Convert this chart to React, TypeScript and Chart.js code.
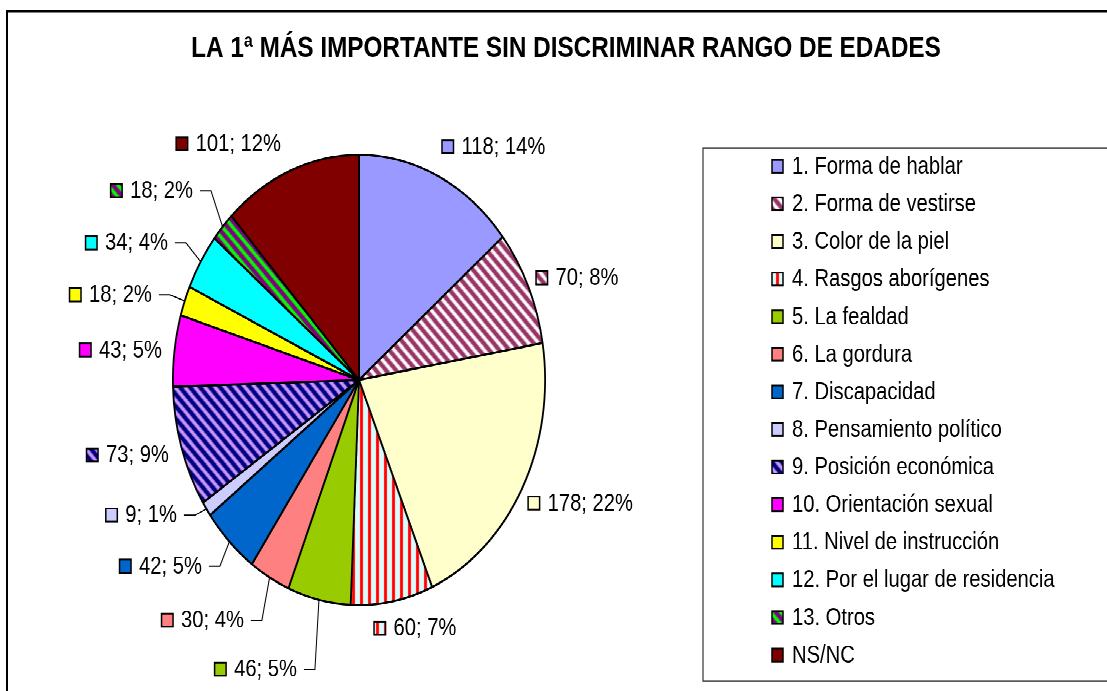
import React, { useEffect, useRef } from 'react';
import { Chart, registerables } from 'chart.js';

Chart.register(...registerables);

// ---------- data ----------
const TITLE = 'LA 1ª MÁS IMPORTANTE SIN DISCRIMINAR RANGO DE EDADES';
const CATEGORIES = [
  '1. Forma de hablar',
  '2. Forma de vestirse',
  '3. Color de la piel',
  '4. Rasgos aborígenes',
  '5. La fealdad',
  '6. La gordura',
  '7. Discapacidad',
  '8. Pensamiento político',
  '9. Posición económica',
  '10. Orientación sexual',
  '11. Nivel de instrucción',
  '12. Por el lugar de residencia',
  '13. Otros',
  'NS/NC',
];
const VALUES = [118, 70, 178, 60, 46, 30, 42, 9, 73, 43, 18, 34, 18, 101];
const PERCENTS = [14, 8, 22, 7, 5, 4, 5, 1, 9, 5, 2, 4, 2, 12];

// ---------- styles / layout ----------
type FillSpec =
  | { kind: 'solid'; color: string }
  | { kind: 'diag'; bg: string; fg: string; size: number; lw: number }
  | { kind: 'vert' };

const FILLS: FillSpec[] = [
  { kind: 'solid', color: '#9999FF' },
  { kind: 'diag', bg: '#FFFFFF', fg: '#993366', size: 10, lw: 4 },
  { kind: 'solid', color: '#FFFFCC' },
  { kind: 'vert' },
  { kind: 'solid', color: '#99CC00' },
  { kind: 'solid', color: '#FF8080' },
  { kind: 'solid', color: '#0066CC' },
  { kind: 'solid', color: '#CCCCFF' },
  { kind: 'diag', bg: '#CC99FF', fg: '#000080', size: 10, lw: 4 },
  { kind: 'solid', color: '#FF00FF' },
  { kind: 'solid', color: '#FFFF00' },
  { kind: 'solid', color: '#00FFFF' },
  { kind: 'diag', bg: '#00FF00', fg: '#800080', size: 10, lw: 4 },
  { kind: 'solid', color: '#800000' },
];

// label anchor offsets from the slice's outer mid point (unscaled px)
const LABEL_OFFSETS: [number, number][] = [
  [3.5, -24.5],
  [7.6, -7.4],
  [5.9, 12.3],
  [-18.2, 22.0],
  [-22, 57.3],
  [-25.7, 35.3],
  [-27.5, 20.3],
  [-29.5, 5.1],
  [-12.5, 6.5],
  [-12.6, -0.5],
  [-32.9, -5.0],
  [-32.8, -15.5],
  [-29.6, -29.8],
  [-9.4, -22.2],
];
const LEADERS = [false, false, false, false, true, true, true, true, false, false, true, true, true, false];

const W = 1107;
const H = 571;
const SY = 691 / H;
const FONT = '"Liberation Sans", Arial, Helvetica, sans-serif';

function makeFill(ctx: CanvasRenderingContext2D, f: FillSpec): any {
  if (f.kind === 'solid') return f.color;
  const tile = document.createElement('canvas');
  if (f.kind === 'diag') {
    const s = f.size;
    tile.width = s;
    tile.height = s;
    const g = tile.getContext('2d')!;
    g.fillStyle = f.bg;
    g.fillRect(0, 0, s, s);
    g.strokeStyle = f.fg;
    g.lineWidth = f.lw;
    g.beginPath();
    for (let k = -2; k <= 2; k++) {
      g.moveTo(-s, -s + k * s);
      g.lineTo(2 * s, 2 * s + k * s);
    }
    g.stroke();
  } else {
    tile.width = 8;
    tile.height = 8;
    const g = tile.getContext('2d')!;
    g.fillStyle = '#CCFFFF';
    g.fillRect(0, 0, 8, 8);
    g.fillStyle = '#FF0000';
    g.fillRect(0, 0, 3, 8);
    g.fillStyle = '#FFFFFF';
    g.fillRect(3, 0, 1, 8);
    g.fillRect(7, 0, 1, 8);
  }
  return ctx.createPattern(tile, 'repeat');
}

const decorPlugin = {
  id: 'decor',
  beforeDraw(chart: any) {
    const ctx: CanvasRenderingContext2D = chart.ctx;
    const bg = chart.data.datasets[0].backgroundColor;
    ctx.save();
    ctx.fillStyle = '#FFFFFF';
    ctx.fillRect(0, 0, chart.width, chart.height);
    // outer frame
    ctx.strokeStyle = '#000000';
    ctx.lineWidth = 2;
    ctx.beginPath();
    ctx.moveTo(7, chart.height + 10);
    ctx.lineTo(7, 9.2);
    ctx.lineTo(chart.width + 10, 9.2);
    ctx.stroke();
    // title
    ctx.font = `bold 24.3px ${FONT}`;
    ctx.fillStyle = '#000000';
    ctx.textAlign = 'center';
    ctx.textBaseline = 'middle';
    ctx.fillText(TITLE, 566, 40.5);
    // legend box
    ctx.lineWidth = 1.2;
    ctx.strokeStyle = '#333333';
    ctx.strokeRect(703, 122.3, 500, 440.5);
    // legend items
    ctx.font = `20.2px ${FONT}`;
    ctx.textAlign = 'left';
    chart.data.labels.forEach((lab: string, i: number) => {
      const cy = 137.4 + i * 31.07;
      ctx.fillStyle = bg[i];
      ctx.fillRect(772, cy - 5.3, 11, 10.6);
      ctx.lineWidth = 1.5;
      ctx.strokeStyle = '#000000';
      ctx.strokeRect(772, cy - 5.3, 11, 10.6);
      ctx.fillStyle = '#000000';
      ctx.fillText(lab, 792, cy + 0.5);
    });
    ctx.restore();
  },
  afterDatasetsDraw(chart: any) {
    const ctx: CanvasRenderingContext2D = chart.ctx;
    const meta = chart.getDatasetMeta(0);
    const bg = chart.data.datasets[0].backgroundColor;
    const vals = chart.data.datasets[0].data;
    ctx.save();
    ctx.font = `20.2px ${FONT}`;
    ctx.textBaseline = 'middle';
    ctx.textAlign = 'left';
    meta.data.forEach((arc: any, i: number) => {
      const p = arc.getProps(['x', 'y', 'startAngle', 'endAngle', 'outerRadius'], true);
      const mid = (p.startAngle + p.endAngle) / 2;
      const ex = p.x + Math.cos(mid) * p.outerRadius;
      const ey = p.y + Math.sin(mid) * p.outerRadius;
      const [dx, dy] = LABEL_OFFSETS[i];
      const ax = ex + dx;
      const cy = ey + dy;
      const text = `${vals[i]}; ${PERCENTS[i]}%`;
      const tw = ctx.measureText(text).width;
      const keyW = 11.5;
      const gap = 8;
      let keyX: number;
      let textX: number;
      if (Math.cos(mid) >= 0) {
        keyX = ax;
        textX = keyX + keyW + gap;
      } else {
        textX = ax - tw;
        keyX = textX - gap - keyW;
      }
      ctx.fillStyle = bg[i];
      ctx.fillRect(keyX, cy - 5.4, keyW, 10.8);
      ctx.lineWidth = 1.5;
      ctx.strokeStyle = '#000000';
      ctx.strokeRect(keyX, cy - 5.4, keyW, 10.8);
      ctx.fillStyle = '#000000';
      ctx.fillText(text, textX, cy + 0.5);
      if (LEADERS[i]) {
        const lx = ax + 7;
        ctx.lineWidth = 1;
        ctx.strokeStyle = '#000000';
        ctx.beginPath();
        ctx.moveTo(lx, cy);
        ctx.lineTo(lx + 11, cy);
        ctx.lineTo(ex, ey);
        ctx.stroke();
      }
    });
    ctx.restore();
  },
};

export default function App() {
  const ref = useRef<HTMLCanvasElement | null>(null);

  useEffect(() => {
    const canvas = ref.current;
    if (!canvas) return;
    const ctx = canvas.getContext('2d')!;
    const fills = FILLS.map((f) => makeFill(ctx, f));
    const chart = new Chart(canvas, {
      type: 'pie',
      data: {
        labels: CATEGORIES,
        datasets: [
          {
            data: VALUES,
            backgroundColor: fills,
            borderColor: '#000000',
            borderWidth: 1.8,
          },
        ],
      },
      options: {
        responsive: false,
        animation: false,
        devicePixelRatio: 2,
        events: [],
        layout: { padding: { left: 172, right: 561, top: 127, bottom: 70 } },
        plugins: {
          legend: { display: false },
          title: { display: false },
          tooltip: { enabled: false },
        },
      },
      plugins: [decorPlugin],
    } as any);
    return () => chart.destroy();
  }, []);

  return (
    <div
      style={{
        position: 'fixed',
        left: 0,
        top: 0,
        width: W,
        height: H,
        transform: `scaleY(${SY})`,
        transformOrigin: '0 0',
        background: '#FFFFFF',
      }}
    >
      <canvas ref={ref} width={W} height={H} style={{ width: `${W}px`, height: `${H}px`, display: 'block' }} />
    </div>
  );
}
